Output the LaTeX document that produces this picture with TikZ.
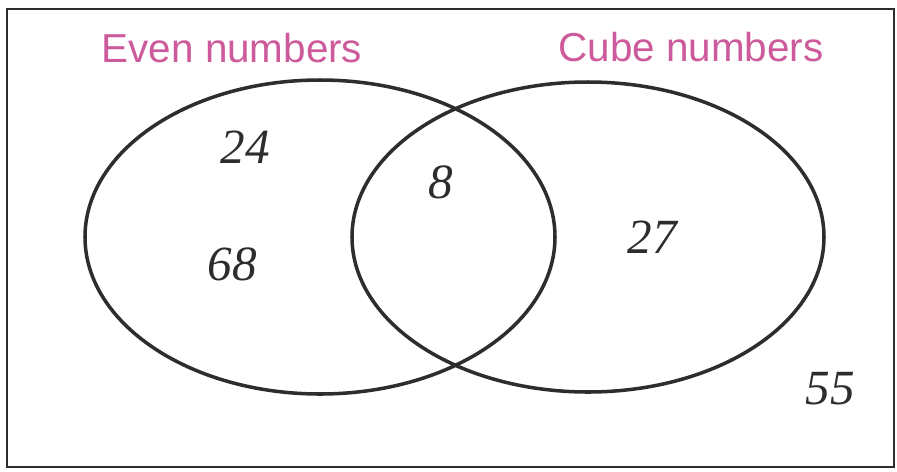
\documentclass[tikz,border=0pt]{standalone}
\usepackage{fontspec}
\setmainfont{Liberation Sans}
\newfontfamily\maoescrita{Liberation Serif}
\usepackage{xcolor}
\usepackage{tikz}
\definecolor{rosa}{RGB}{205,90,155}
\definecolor{lapis}{RGB}{45,45,45}
\tikzset{
  conjunto/.style={draw=lapis, line width=2pt},
  titulo/.style={text=rosa, font=\fontsize{23}{26}\selectfont},
  escrito/.style={text=lapis, font=\fontsize{28}{30}\selectfont\maoescrita\itshape}
}
\begin{document}
\begin{tikzpicture}[x=0.02cm, y=-0.02cm]
  \useasboundingbox (0,0) rectangle (897,471);
  \fill[white] (0,0) rectangle (897,471);
  % moldura
  \draw[lapis, line width=1.5pt] (7,9) rectangle (894,467);
  % ---- conjuntos ----
  \draw[conjunto] (320,237) ellipse [x radius=235, y radius=157];
  \draw[conjunto] (588,237) ellipse [x radius=236, y radius=155];
  % ---- titulos ----
  \node[titulo] (pares) at (232,48) {Even numbers};
  \node[titulo] (cubos) at (691,47) {Cube numbers};
  % ---- elementos ----
  \node[escrito] (n24) at (245,147) {24};
  \node[escrito] (n68) at (232,264) {68};
  \node[escrito] (n8) at (441,182) {8};
  \node[escrito] (n27) at (652,237) {27};
  \node[escrito] (n55) at (830,389) {55};
\end{tikzpicture}
\end{document}
